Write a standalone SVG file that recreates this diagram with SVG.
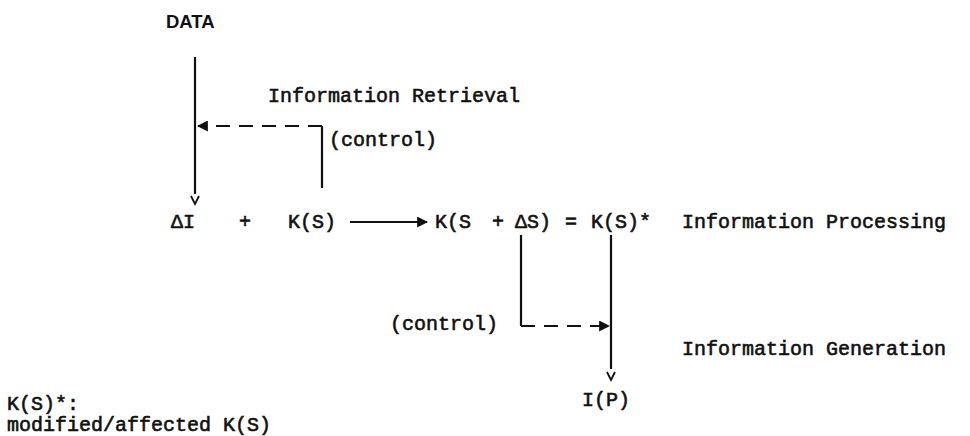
<svg xmlns="http://www.w3.org/2000/svg" width="970" height="436" viewBox="0 0 970 436">
<defs>
<style>
.t{font-family:"Liberation Mono","DejaVu Sans Mono",monospace;font-size:20px;fill:#111;stroke:#111;stroke-width:0.6}
.b{font-family:"Liberation Sans",Arial,sans-serif;font-size:18.5px;font-weight:bold;fill:#111}
.ln{stroke:#111;stroke-width:2.2;fill:none}
.ds{stroke:#111;stroke-width:2.2;fill:none;stroke-dasharray:14 9}
.v{stroke:#111;stroke-width:1.8;fill:none}
</style>
<marker id="ah" viewBox="0 0 10 10" refX="9" refY="5" markerWidth="5" markerHeight="5" orient="auto-start-reverse">
<path d="M0,0 L10,5 L0,10 Z" fill="#111"/>
</marker>
</defs>
<rect width="970" height="436" fill="#fff"/>
<g id="data"><text class="b" x="166" y="28">DATA</text></g>
<g id="retrieval"><text class="t" x="268" y="102">Information Retrieval</text></g>
<g id="control1"><text class="t" x="329" y="146">(control)</text></g>
<g id="deltaI"><text class="t" x="171" y="228">ΔI</text></g>
<g id="plus1"><text class="t" x="245" y="228" text-anchor="middle">+</text></g>
<g id="KS"><text class="t" x="288" y="228">K(S)</text></g>
<g id="KSdS">
<text class="t" x="435" y="228">K(S</text>
<text class="t" x="498" y="228" text-anchor="middle">+</text>
<text class="t" x="515" y="228">ΔS)</text>
<text class="t" x="571" y="228" text-anchor="middle">=</text>
<text class="t" x="591" y="228">K(S)*</text>
</g>
<g id="processing"><text class="t" x="682" y="228">Information Processing</text></g>
<g id="control2"><text class="t" x="390" y="330">(control)</text></g>
<g id="generation"><text class="t" x="682" y="355">Information Generation</text></g>
<g id="IP"><text class="t" x="582" y="406">I(P)</text></g>
<g id="legend">
<text class="t" x="7" y="410">K(S)*:</text>
<text class="t" x="7" y="431">modified/affected K(S)</text>
</g>
<g id="connectors">
<line class="ln" x1="195" y1="57" x2="195" y2="194"/>
<path class="v" d="M191,196 L195,204 L199,196"/>
<line class="ln" x1="322" y1="188" x2="322" y2="126"/>
<path class="ds" d="M322,126 L198,126" marker-end="url(#ah)"/>
<path class="ln" d="M350,222 L427,222" marker-end="url(#ah)"/>
<path class="ln" d="M521,235 L521,326"/>
<path class="ds" d="M521,326 L609,326" marker-end="url(#ah)"/>
<line class="ln" x1="611" y1="235" x2="611" y2="369"/>
<path class="v" d="M607,372 L611,380 L615,372"/>
</g>
</svg>
